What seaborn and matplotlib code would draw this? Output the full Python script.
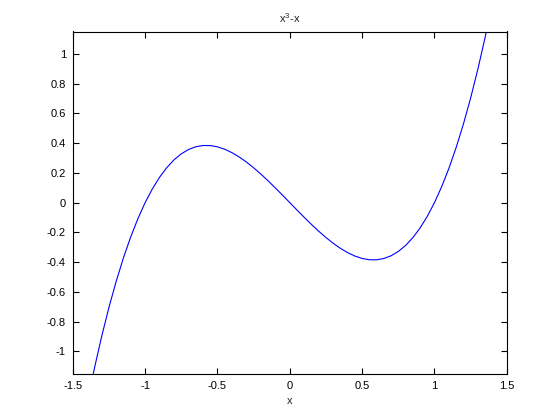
import numpy as np
import pandas as pd
import matplotlib
matplotlib.use("Agg")
import matplotlib.pyplot as plt
import seaborn as sns

# Points (x, y)
x_vals = [-1.40, -1.35, -1.30, -1.25, -1.20, -1.15, -1.10, -1.05, -1.00, -0.95,
          -0.90, -0.85, -0.80, -0.75, -0.70, -0.65, -0.60, -0.55, -0.50, -0.45,
          -0.40, -0.35, -0.30, -0.25, -0.20, -0.15, -0.10, -0.05, 0.00, 0.05,
          0.10, 0.15, 0.20, 0.25, 0.30, 0.35, 0.40, 0.45, 0.50, 0.55,
          0.60, 0.65, 0.70, 0.75, 0.80, 0.85, 0.90, 0.95, 1.00, 1.05,
          1.10, 1.15, 1.20, 1.25, 1.30, 1.35, 1.40]
y_vals = [-1.344, -1.1104, -0.897, -0.7031, -0.528, -0.3709, -0.231, -0.1076, 0.0, 0.0926,
          0.171, 0.2359, 0.288, 0.3281, 0.357, 0.3754, 0.384, 0.3836, 0.375, 0.3589,
          0.336, 0.3071, 0.273, 0.2344, 0.192, 0.1466, 0.099, 0.0499, 0.0, -0.0499,
          -0.099, -0.1466, -0.192, -0.2344, -0.273, -0.3071, -0.336, -0.3589, -0.375, -0.3836,
          -0.384, -0.3754, -0.357, -0.3281, -0.288, -0.2359, -0.171, -0.0926, 0.0, 0.1076,
          0.231, 0.3709, 0.528, 0.7031, 0.897, 1.1104, 1.344]

x_ticks = [-1.5, -1, -0.5, 0, 0.5, 1, 1.5]
x_tick_labels = ["-1.5", "-1", "-0.5", "0", "0.5", "1", "1.5"]
y_ticks = [-1, -0.8, -0.6, -0.4, -0.2, 0, 0.2, 0.4, 0.6, 0.8, 1]
y_tick_labels = ["-1", "-0.8", "-0.6", "-0.4", "-0.2", "0", "0.2", "0.4", "0.6", "0.8", "1"]

df = pd.DataFrame({"x": x_vals, "y": y_vals})

sns.set_style("ticks")
plt.rcParams["font.family"] = ["Liberation Sans", "DejaVu Sans"]
plt.rcParams["mathtext.default"] = "regular"
plt.rcParams["axes.unicode_minus"] = False
plt.rcParams["xtick.direction"] = "in"
plt.rcParams["ytick.direction"] = "in"

fig = plt.figure(figsize=(5.6, 4.2), dpi=100)
ax = fig.add_axes([0.13, 0.11, 0.775, 0.815])

sns.lineplot(data=df, x="x", y="y", sort=False, color="blue", linewidth=0.8, ax=ax)

ax.set_xlim(-1.5, 1.5)
ax.set_ylim(-1.15, 1.15)
ax.set_xticks(x_ticks)
ax.set_xticklabels(x_tick_labels)
ax.set_yticks(y_ticks)
ax.set_yticklabels(y_tick_labels)
ax.tick_params(top=True, right=True, length=4, width=0.8, labelsize=8, pad=5, colors="black")
for s in ax.spines.values():
    s.set_linewidth(0.8)
    s.set_color("black")

ax.set_title("x$^3$-x", fontsize=8)
ax.set_xlabel("x", fontsize=8)
ax.set_ylabel("")

fig.savefig("out.png", dpi=100, facecolor="white")
